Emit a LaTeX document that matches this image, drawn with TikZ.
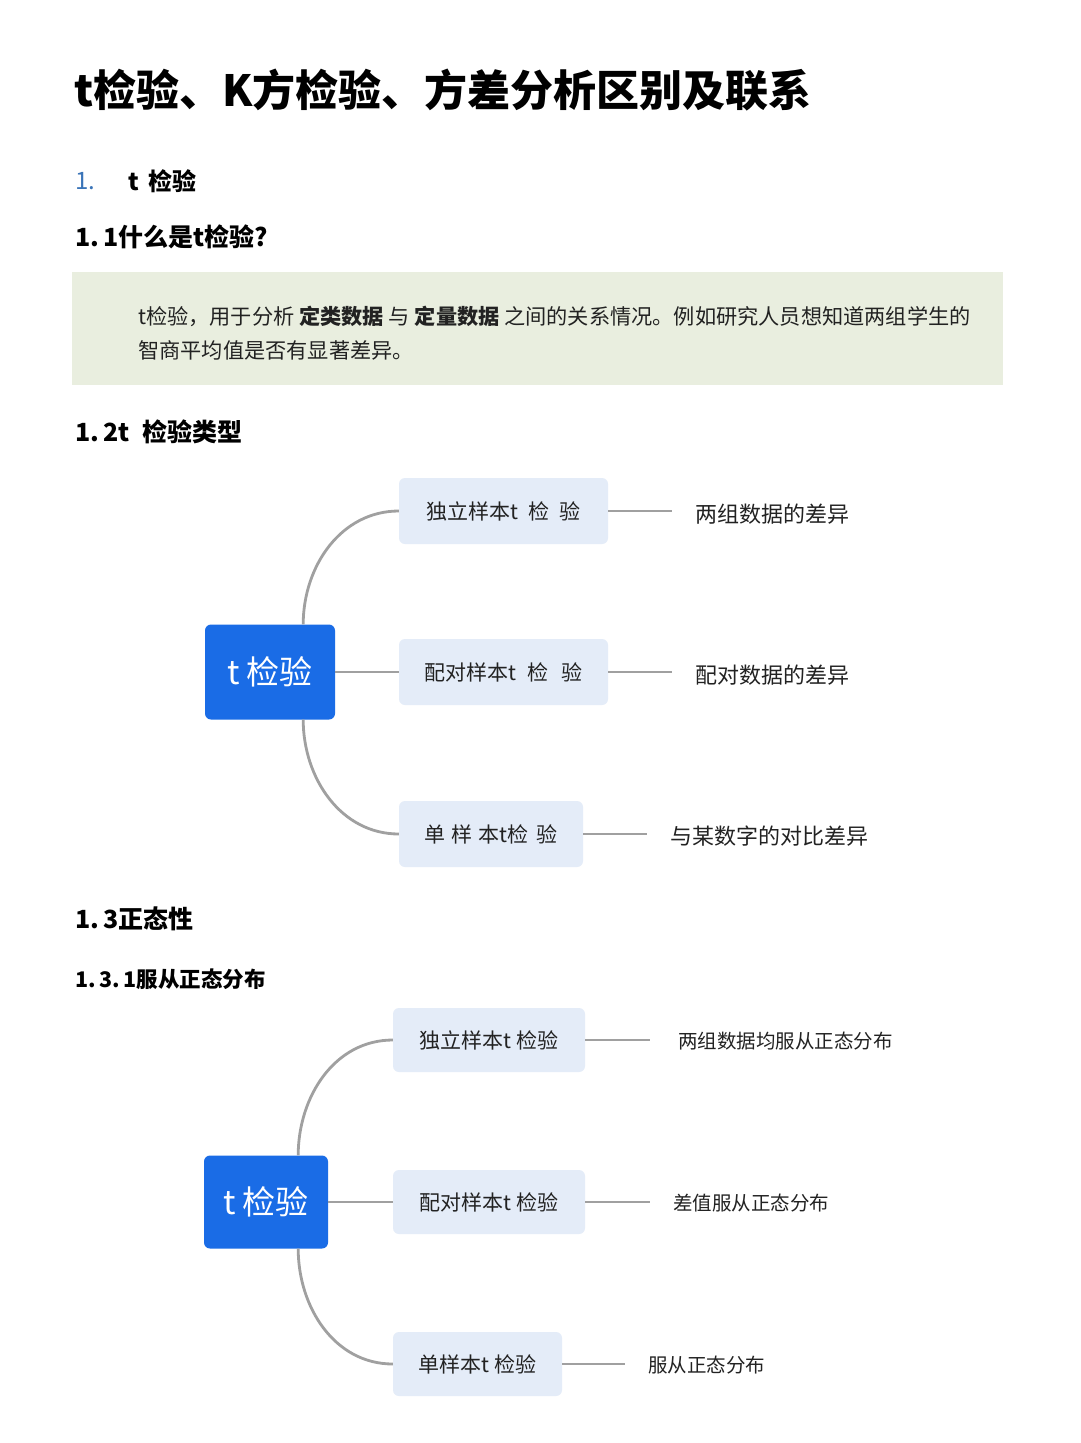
\documentclass[tikz,border=0pt]{standalone}
\usepackage{fontspec}
\setmainfont{Noto Sans CJK SC}
\usetikzlibrary{calc}
\definecolor{tblue}{HTML}{1A6CE6}
\definecolor{boxfill}{HTML}{E4ECF8}
\definecolor{linegray}{HTML}{A0A0A0}
\definecolor{notefill}{HTML}{E9EEDF}
\definecolor{numblue}{HTML}{3A74B8}
\definecolor{txt}{HTML}{222222}
\newcommand{\fs}[1]{\fontsize{#1}{#1}\selectfont}
\tikzset{
  hdr/.style={anchor=west, inner sep=0, text=black, font=\fs{25}\bfseries},
  center/.style={fill=tblue, rounded corners=6pt, text=white, inner sep=0, font=\fs{33}},
  branch/.style={fill=boxfill, rounded corners=6pt, text=txt, inner sep=0, font=\fs{21}},
  leaf/.style={anchor=west, inner sep=0, text=txt, font=\fs{21}},
  conn/.style={draw=linegray, line width=2.8pt},
}
\begin{document}
\begin{tikzpicture}[x=1pt,y=-1pt]
\useasboundingbox (0,0) rectangle (1080,1443);
\fill[white] (0,0) rectangle (1080,1443);

% title
\node[anchor=west, inner sep=0, font=\fs{43}\bfseries] (title) at (74,90) {t检验、K方检验、方差分析区别及联系};

% headings
\node[anchor=west, inner sep=0, text=numblue, font=\fs{24}] (h1n) at (75,181) {1.};
\node[hdr, font=\fs{24}\bfseries] (h1) at (128,181) {t\hspace{0.4em}检验};
\node[hdr] (h11) at (75,237) {1.\,1什么是t检验?};

% note box
\node[fill=notefill, minimum width=931pt, minimum height=113pt, inner sep=0] (note) at (537.5,328.5) {};
\node[anchor=west, inner sep=0, text=txt, font=\fs{21.2}] (nl1) at (138,316) {t检验，用于分析 \textbf{定类数据} 与 \textbf{定量数据} 之间的关系情况。例如研究人员想知道两组学生的};
\node[anchor=west, inner sep=0, text=txt, font=\fs{21.2}] (nl2) at (138,350) {智商平均值是否有显著差异。};

\node[hdr] (h12) at (75,432) {1.\,2t\hspace{0.5em}检验类型};

% diagram 1
\node[center, minimum width=130pt, minimum height=95pt] (c1) at (270,672) {t 检验};
\node[branch, minimum width=209pt, minimum height=66pt] (a1) at (503.5,511) {独立样本t\hspace{0.5em}检\hspace{0.5em}验};
\node[branch, minimum width=209pt, minimum height=66pt] (a2) at (503.5,672) {配对样本t\hspace{0.5em}检\hspace{0.6em}验};
\node[branch, minimum width=184pt, minimum height=66pt] (a3) at (491,834) {单\hspace{0.3em}样\hspace{0.3em}本t检\hspace{0.4em}验};
\node[leaf, font=\fs{22}] (la1) at (695,514) {两组数据的差异};
\node[leaf, font=\fs{22}] (la2) at (695,675) {配对数据的差异};
\node[leaf, font=\fs{22}] (la3) at (670,836) {与某数字的对比差异};

\draw[conn] ([xshift=-32pt]c1.north east) to[out=90,in=180,looseness=1.0] (a1.west);
\draw[conn] (c1.east) -- (a2.west);
\draw[conn] ([xshift=-32pt]c1.south east) to[out=-90,in=180,looseness=1.0] (a3.west);
\draw[conn, shorten >=23pt] (a1.east) -- (a1.east -| la1.west);
\draw[conn, shorten >=23pt] (a2.east) -- (a2.east -| la2.west);
\draw[conn, shorten >=23pt] (a3.east) -- (a3.east -| la3.west);

% headings 1.3
\node[hdr] (h13) at (75,919) {1.\,3正态性};
\node[hdr, font=\fs{21.5}\bfseries] (h131) at (75,979) {1.\,3.\,1服从正态分布};

% diagram 2
\node[center, minimum width=124pt, minimum height=93pt] (c2) at (266,1202) {t 检验};
\node[branch, minimum width=192pt, minimum height=64pt] (b1) at (489,1040) {独立样本t 检验};
\node[branch, minimum width=192pt, minimum height=64pt] (b2) at (489,1202) {配对样本t 检验};
\node[branch, minimum width=169pt, minimum height=64pt] (b3) at (477.5,1364) {单样本t 检验};
\node[leaf, font=\fs{19.5}] (lb1) at (678,1041) {两组数据均服从正态分布};
\node[leaf, font=\fs{19.5}] (lb2) at (673,1203) {差值服从正态分布};
\node[leaf, font=\fs{19.5}] (lb3) at (648,1365) {服从正态分布};

\draw[conn] ([xshift=-30pt]c2.north east) to[out=90,in=180,looseness=1.0] (b1.west);
\draw[conn] (c2.east) -- (b2.west);
\draw[conn] ([xshift=-30pt]c2.south east) to[out=-90,in=180,looseness=1.0] (b3.west);
\draw[conn, shorten >=28pt] (b1.east) -- (b1.east -| lb1.west);
\draw[conn, shorten >=23pt] (b2.east) -- (b2.east -| lb2.west);
\draw[conn, shorten >=23pt] (b3.east) -- (b3.east -| lb3.west);
\end{tikzpicture}
\end{document}
